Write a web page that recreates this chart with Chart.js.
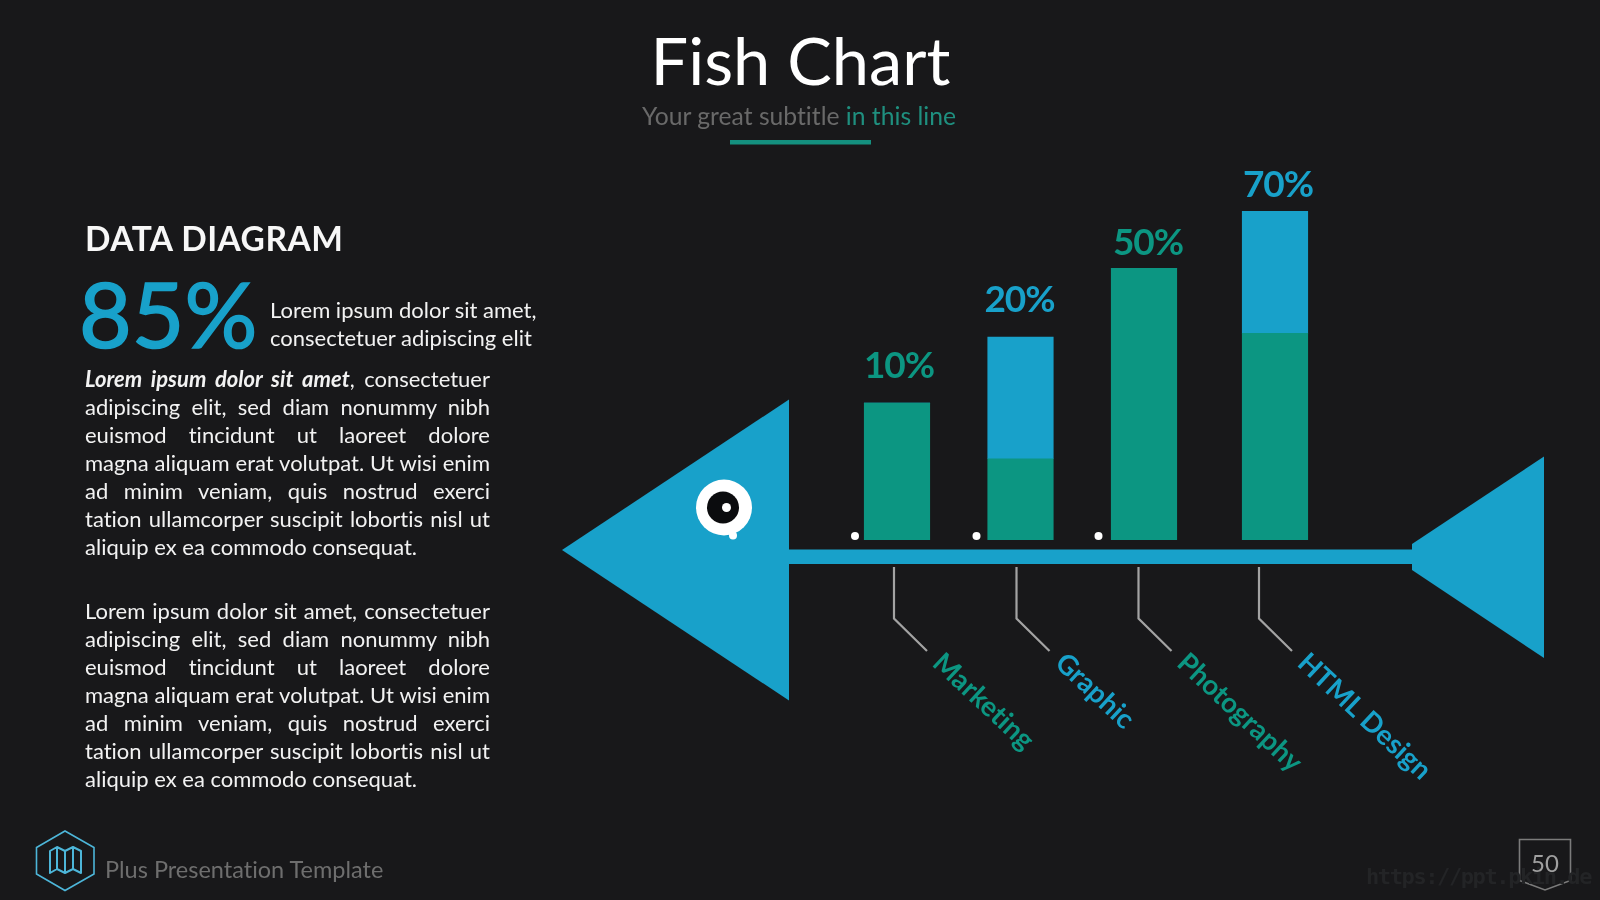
<!DOCTYPE html>
<html>
<head>
<meta charset="utf-8">
<title>Fish Chart</title>
<script src="https://cdn.jsdelivr.net/npm/chart.js@4"></script>
<style>
  html, body { margin: 0; padding: 0; background: #18181a; }
  #slide { position: relative; width: 1600px; height: 900px; overflow: hidden; font-family: Lato, sans-serif; color: #f2f2f2; font-variant-ligatures: none; }
  #slide > * { position: absolute; }
  #art, #chart { left: 0; top: 0; width: 1600px; height: 900px; }
  .t { white-space: nowrap; line-height: 1; }
  .body { left: 85px; width: 405px; font-size: 22px; line-height: 28px; }
  .body div { text-align: justify; text-align-last: justify; white-space: nowrap; }
  .body div.end { text-align-last: left; }
</style>
</head>
<body>
<div id="slide">
  <svg id="art" viewBox="0 0 1600 900">
    <!-- fish body -->
    <polygon points="562,550 789,399.5 789,700.5" fill="#18a1ca"/>
    <rect x="788" y="549.5" width="626" height="14.5" fill="#18a1ca"/>
    <polygon points="1412,544 1544,456.5 1544,658 1412,570" fill="#18a1ca"/>
    <circle cx="733" cy="535.5" r="4" fill="#fff"/>
    <circle cx="724" cy="507.5" r="28" fill="#fff"/>
    <circle cx="723" cy="507.5" r="16" fill="#0b0c0e"/>
    <circle cx="726.5" cy="507.5" r="4.5" fill="#fff"/>
    <circle cx="855" cy="536" r="4" fill="#fff"/>
    <circle cx="976.5" cy="536" r="4" fill="#fff"/>
    <circle cx="1098.5" cy="536" r="4" fill="#fff"/>
    <!-- underline below the subtitle -->
    <rect x="730" y="140" width="141" height="4.5" fill="#14907f"/>
    <!-- footer logo -->
    <polygon points="65,831 94,847.5 94,874 65,890.5 36.5,874 36.5,847.5" fill="none" stroke="#4db6d9" stroke-width="1.6"/>
    <path d="M50,873 V851 L57,847 L65,851 L73,847 L81,851 V873 L73,869 L65,873 L57,869 Z M57,847 V869 M65,851 V873 M73,847 V869" fill="none" stroke="#4db6d9" stroke-width="2" stroke-linejoin="round"/>
    <!-- page number badge -->
    <polygon points="1519.5,839.5 1570.5,839.5 1570.5,880.5 1545,890 1519.5,880.5" fill="none" stroke="#7b7b7b" stroke-width="1.6"/>
  </svg>

  <canvas id="chart" width="1600" height="900"></canvas>

  <div class="t" style="left:0;width:1601px;text-align:center;top:26px;font-size:66.7px;color:#fff;">Fish Chart</div>
  <div class="t" style="left:0;width:1598px;text-align:center;top:104px;font-size:24.7px;color:#696969;">Your great subtitle <span style="color:#1f8f7f">in this line</span></div>

  <div class="t" style="left:85px;top:222px;font-size:33.5px;letter-spacing:0.5px;font-weight:700;color:#f7f7f7;">DATA DIAGRAM</div>
  <div class="t" style="left:79px;top:267px;font-size:91px;color:#18a1ca;-webkit-text-stroke:1.6px #18a1ca;">85%</div>
  <div class="t" style="left:270px;top:296px;font-size:22px;line-height:28px;">Lorem ipsum dolor sit amet,<br>consectetuer adipiscing elit</div>

  <div class="body" style="top:365px;">
    <div><b><i>Lorem ipsum dolor sit amet</i></b>, consectetuer</div>
    <div>adipiscing elit, sed diam nonummy nibh</div>
    <div>euismod tincidunt ut laoreet dolore</div>
    <div>magna aliquam erat volutpat. Ut wisi enim</div>
    <div>ad minim veniam, quis nostrud exerci</div>
    <div>tation ullamcorper suscipit lobortis nisl ut</div>
    <div class="end">aliquip ex ea commodo consequat.</div>
  </div>
  <div class="body" style="top:597px;">
    <div>Lorem ipsum dolor sit amet, consectetuer</div>
    <div>adipiscing elit, sed diam nonummy nibh</div>
    <div>euismod tincidunt ut laoreet dolore</div>
    <div>magna aliquam erat volutpat. Ut wisi enim</div>
    <div>ad minim veniam, quis nostrud exerci</div>
    <div>tation ullamcorper suscipit lobortis nisl ut</div>
    <div class="end">aliquip ex ea commodo consequat.</div>
  </div>

  <div class="t" style="left:105px;top:858px;font-size:23.5px;color:#6e6e6e;">Plus Presentation Template</div>
  <div class="t" style="left:1366px;top:866px;font-size:22px;letter-spacing:-1.4px;font-weight:700;font-family:'DejaVu Sans Mono',monospace;color:#232426;">https://ppt.pkin.de</div>
  <div class="t" style="left:1519px;width:52px;text-align:center;top:851px;font-size:24px;color:#a0a0a0;">50</div>
</div>

<script>
// chart values (units: tallest bar = 100)
const categories = ['Marketing', 'Graphic', 'Photography', 'HTML Design'];
const greenValues = [41.6, 24.7, 82.6, 62.8];
const blueValues = [0, 37, 0, 37.2];
const percentLabels = ['10%', '20%', '50%', '70%'];

const GREEN = '#0c9682';
const BLUE = '#18a1ca';
const labelColors = [GREEN, BLUE, GREEN, BLUE];

// the bars in the slide are not evenly spaced, the last one sits a bit further right
const lastBarNudge = 7.5;
// where each percent label sits relative to the top of its bar
const percentShift = [[2, 25], [-1, 25], [4, 13], [3, 14]];
// connector x relative to the category tick
const boneShift = [-3, -4, -5.5, -8.5];

const fishPlugin = {
    id: 'fish',
    afterDatasetsUpdate(chart) {
        chart.data.datasets.forEach((ds, i) => {
            chart.getDatasetMeta(i).data[3].x += lastBarNudge;
        });
    },
    afterDatasetsDraw(chart) {
        const ctx = chart.ctx;
        const xScale = chart.scales.x;
        const yScale = chart.scales.y;

        categories.forEach((name, i) => {
            const total = greenValues[i] + blueValues[i];
            const bar = chart.getDatasetMeta(0).data[i];
            const boneX = xScale.getPixelForTick(i) + boneShift[i];

            // percent above the bar
            ctx.save();
            ctx.font = 'bold 37px Lato, sans-serif';
            ctx.letterSpacing = '-1px';
            ctx.fillStyle = labelColors[i];
            ctx.textAlign = 'center';
            ctx.textBaseline = 'alphabetic';
            ctx.fillText(percentLabels[i], bar.x + percentShift[i][0], yScale.getPixelForValue(total) - percentShift[i][1]);
            ctx.restore();

            // connector under the spine
            ctx.save();
            ctx.strokeStyle = '#a3a3a3';
            ctx.lineWidth = 2.2;
            ctx.beginPath();
            ctx.moveTo(boneX, 567);
            ctx.lineTo(boneX, 618.5);
            ctx.lineTo(boneX + 33, 651);
            ctx.stroke();
            ctx.restore();

            // rotated category name
            ctx.save();
            ctx.translate(boneX + 37, 665);
            ctx.rotate(43 * Math.PI / 180);
            ctx.font = 'bold 27.7px Lato, sans-serif';
            ctx.fontVariantCaps = 'normal';
            ctx.fillStyle = labelColors[i];
            ctx.textAlign = 'left';
            ctx.textBaseline = 'alphabetic';
            ctx.fillText(name, 0, 0);
            ctx.restore();
        });
    }
};

document.addEventListener('DOMContentLoaded', () => {
    const ctx = document.getElementById('chart').getContext('2d');
    new Chart(ctx, {
        type: 'bar',
        data: {
            labels: categories,
            datasets: [
                { label: 'Base', data: greenValues, backgroundColor: GREEN, barThickness: 65.5, borderWidth: 0 },
                { label: 'Top', data: blueValues, backgroundColor: BLUE, barThickness: 65.5, borderWidth: 0 }
            ]
        },
        options: {
            responsive: false,
            animation: false,
            layout: { padding: { left: 835.25, right: 270.75, top: 211, bottom: 360 } },
            plugins: { legend: { display: false }, tooltip: { enabled: false } },
            scales: {
                x: { stacked: true, display: false },
                y: { stacked: true, display: false, min: 0, max: 100 }
            }
        },
        plugins: [fishPlugin]
    });
});
</script>
</body>
</html>
